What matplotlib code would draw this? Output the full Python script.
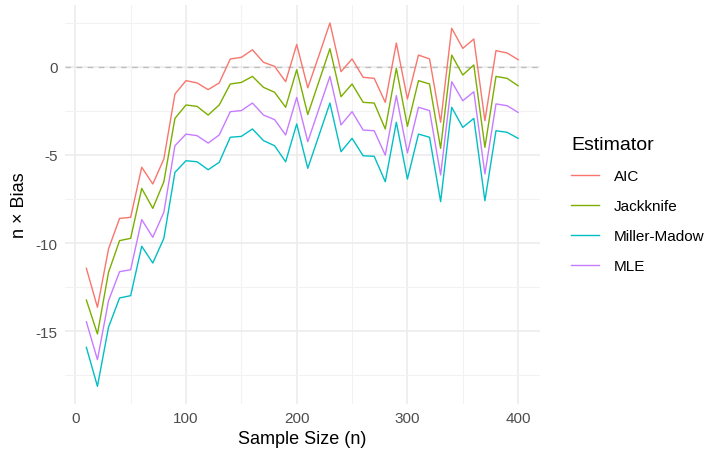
import matplotlib
matplotlib.use('Agg')
import matplotlib.pyplot as plt
from matplotlib.ticker import MultipleLocator

plt.rcParams['font.family'] = ['Liberation Sans', 'DejaVu Sans']
plt.rcParams['axes.unicode_minus'] = False

# sample sizes 10..400
n = [10, 20, 30, 40, 50, 60, 70, 80, 90, 100,
     110, 120, 130, 140, 150, 160, 170, 180, 190, 200,
     210, 220, 230, 240, 250, 260, 270, 280, 290, 300,
     310, 320, 330, 340, 350, 360, 370, 380, 390, 400]

aic = [-11.43, -13.64, -10.33, -8.60, -8.54, -5.70, -6.65, -5.23, -1.55, -0.79,
       -0.92, -1.30, -0.92, 0.44, 0.53, 0.96, 0.25, 0.02, -0.85, 1.26,
       -1.20, 0.62, 2.48, -0.28, 0.44, -0.60, -0.66, -2.02, 1.34, -1.83,
       0.66, 0.44, -3.15, 2.18, 1.04, 1.57, -3.06, 0.91, 0.78, 0.40]

jackknife = [-13.23, -15.15, -11.66, -9.86, -9.73, -6.90, -8.03, -6.52, -2.93, -2.17,
             -2.25, -2.74, -2.17, -0.98, -0.89, -0.55, -1.17, -1.45, -2.30, -0.17,
             -2.71, -0.85, 1.02, -1.70, -0.98, -2.02, -2.06, -3.53, -0.09, -3.38,
             -0.79, -0.98, -4.63, 0.66, -0.47, 0.10, -4.57, -0.55, -0.66, -1.08]

miller_madow = [-15.91, -18.12, -14.77, -13.11, -12.98, -10.18, -11.13, -9.73, -5.99, -5.33,
                -5.39, -5.84, -5.42, -4.00, -3.95, -3.53, -4.19, -4.48, -5.39, -3.25,
                -5.76, -3.91, -2.06, -4.82, -4.06, -5.05, -5.08, -6.52, -3.15, -6.37,
                -3.82, -4.00, -7.65, -2.30, -3.44, -2.93, -7.60, -3.63, -3.72, -4.06]

mle = [-14.46, -16.61, -13.27, -11.62, -11.51, -8.67, -9.67, -8.25, -4.48, -3.82,
       -3.91, -4.33, -3.87, -2.55, -2.49, -2.06, -2.74, -3.00, -3.87, -1.74,
       -4.25, -2.40, -0.55, -3.30, -2.55, -3.59, -3.63, -5.01, -1.64, -4.89,
       -2.30, -2.49, -6.14, -0.85, -1.93, -1.42, -6.08, -2.11, -2.21, -2.59]

labels = ['AIC', 'Jackknife', 'Miller-Madow', 'MLE']
colors = ['#F8766D', '#7CAE00', '#00BFC4', '#C77CFF']

fig = plt.figure(figsize=(7.08, 4.6), dpi=100)
ax = fig.add_axes([0.0915, 0.1185, 0.6708, 0.8689])

for vals, lab, col in zip([aic, jackknife, miller_madow, mle], labels, colors):
    ax.plot(n, vals, color=col, lw=1.0, label=lab)

ax.axhline(0, color='#BEBEBE', lw=1.0, ls=(0, (4, 4)), zorder=1)

ax.set_xlim(-9.5, 419.5)
ax.set_ylim(-19.15, 3.51)
ax.xaxis.set_major_locator(MultipleLocator(100))
ax.xaxis.set_minor_locator(MultipleLocator(50))
ax.yaxis.set_major_locator(MultipleLocator(5))
ax.yaxis.set_minor_locator(MultipleLocator(2.5))
ax.grid(which='major', color='#EBEBEB', lw=1.1, zorder=0)
ax.grid(which='minor', color='#F2F2F2', lw=0.8, zorder=0)
ax.set_axisbelow(True)
for s in ax.spines.values():
    s.set_visible(False)
ax.tick_params(which='both', length=0, labelsize=11, labelcolor='#4D4D4D', pad=5)

ax.set_xlabel('Sample Size (n)', fontsize=13, color='black', labelpad=3)
ax.set_ylabel('n × Bias', fontsize=13, color='black', labelpad=6)

leg = ax.legend(title='Estimator', loc='center left', bbox_to_anchor=(1.037, 0.5),
                frameon=False, fontsize=11, title_fontsize=14, handlelength=1.8,
                handletextpad=1.0, labelspacing=1.05)
leg._legend_box.align = 'left'

fig.savefig('out.png', dpi=100)
